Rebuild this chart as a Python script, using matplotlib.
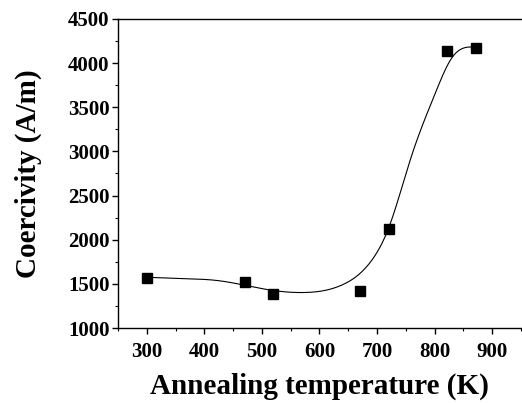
import numpy as np
import matplotlib
matplotlib.use("Agg")
import matplotlib.pyplot as plt
from matplotlib.ticker import MultipleLocator

# measured data
temp_K = [300, 470, 520, 670, 720, 822, 872]
coercivity = [1570, 1520, 1385, 1425, 2120, 4140, 4175]

# guide curve
curve_x = [300, 370, 420, 520, 570, 640, 690, 720, 760, 800, 830, 872]
curve_y = [1575, 1558, 1540, 1425, 1402, 1490, 1760, 2130, 2950, 3640, 4060, 4180]

x_ticks = [300, 400, 500, 600, 700, 800, 900]
y_ticks = [1000, 1500, 2000, 2500, 3000, 3500, 4000, 4500]


def natural_spline(xk, yk, xs):
    xk = np.asarray(xk, float); yk = np.asarray(yk, float)
    n = len(xk)
    h = np.diff(xk)
    A = np.zeros((n, n)); r = np.zeros(n)
    A[0, 0] = A[-1, -1] = 1
    for i in range(1, n - 1):
        A[i, i - 1] = h[i - 1]
        A[i, i] = 2 * (h[i - 1] + h[i])
        A[i, i + 1] = h[i]
        r[i] = 6 * ((yk[i + 1] - yk[i]) / h[i] - (yk[i] - yk[i - 1]) / h[i - 1])
    M = np.linalg.solve(A, r)
    idx = np.clip(np.searchsorted(xk, xs) - 1, 0, n - 2)
    x0, x1 = xk[idx], xk[idx + 1]; hh = x1 - x0
    a = (x1 - xs) / hh; b = (xs - x0) / hh
    return (a * yk[idx] + b * yk[idx + 1]
            + ((a ** 3 - a) * M[idx] + (b ** 3 - b) * M[idx + 1]) * hh ** 2 / 6)


plt.rcParams['font.family'] = ['Liberation Serif', 'DejaVu Serif']
plt.rcParams['font.weight'] = 'bold'

fig = plt.figure(figsize=(5.22, 4.03), dpi=100)
ax = fig.add_axes([0.226, 0.186, 0.772, 0.767])

xs = np.linspace(curve_x[0], curve_x[-1], 500)
ax.plot(xs, natural_spline(curve_x, curve_y, xs), color='black', lw=0.8)
ax.plot(temp_K, coercivity, 's', color='black', ms=7, ls='none')

ax.set_xlim(250, 950)
ax.set_ylim(1000, 4500)
ax.set_xticks(x_ticks)
ax.set_yticks(y_ticks)
ax.xaxis.set_minor_locator(MultipleLocator(50))
ax.yaxis.set_minor_locator(MultipleLocator(250))
ax.tick_params(which='major', direction='out', length=4, width=1, labelsize=15,
               top=False, right=False)
ax.tick_params(axis='x', which='major', pad=6)
ax.tick_params(axis='y', which='major', pad=2)
ax.tick_params(which='minor', direction='out', length=2, width=0.8, top=False, right=False)
for lab in ax.get_xticklabels() + ax.get_yticklabels():
    lab.set_fontweight('bold')
for s in ax.spines.values():
    s.set_linewidth(1.0)
ax.spines['right'].set_visible(False)

ax.set_xlabel('Annealing temperature (K)', fontsize=21, fontweight='bold', labelpad=8)
ax.set_ylabel('Coercivity (A/m)', fontsize=21, fontweight='bold', labelpad=19)

fig.savefig('out.png', dpi=100)
